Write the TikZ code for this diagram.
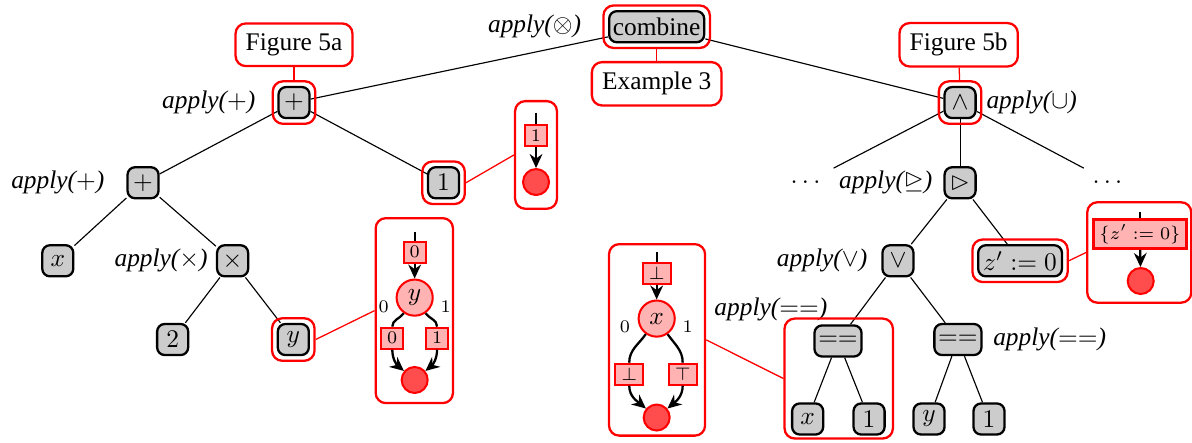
\documentclass[tikz,border=0pt]{standalone}
\usepackage{amsmath}
\usepackage{amssymb}
\usepackage{fontspec}
\setmainfont{Liberation Serif}
\usepackage{tikz}
\usetikzlibrary{arrows.meta, calc, fit, positioning}
\definecolor{treeGray}{HTML}{CCCCCC}
\definecolor{bddPink}{HTML}{FFB3B3}
\definecolor{bddRed}{HTML}{FF4D4D}

\tikzset{
  tnode/.style = {draw, line width = 0.9pt, fill = treeGray, rounded corners = 3pt,
                  minimum size = 0.43cm, inner sep = 1.5pt},
  hl/.style = {draw = red, line width = 0.9pt, rounded corners = 4pt, inner sep = 1.8pt},
  tag/.style = {draw = red, line width = 0.9pt, rounded corners = 4pt, fill = white,
                minimum height = 0.58cm, inner sep = 4pt},
  lbl/.style = {font = \itshape},
  link/.style = {line width = 0.45pt},
  redlink/.style = {draw = red, line width = 0.5pt},
  sq/.style = {draw = red, line width = 0.8pt, fill = bddPink, font = \scriptsize,
               minimum height = 0.29cm, inner xsep = 2.4pt, inner ysep = 1.2pt},
  var/.style = {circle, draw = red, line width = 0.8pt, fill = bddPink,
                minimum size = 0.5cm, inner sep = 0pt},
  term/.style = {circle, draw = red, line width = 0.8pt, fill = bddRed,
                 minimum size = 0.36cm, inner sep = 0pt},
  bit/.style = {font = \scriptsize},
  bddarrow/.style = {line width = 0.9pt, -{Stealth[length = 5.5pt, width = 5pt]}},
  bddline/.style = {line width = 0.9pt}
}

\begin{document}
\begin{tikzpicture}
  \useasboundingbox (0, 0) rectangle (16.5, 6.13);

  % ------------------------
  % left subtree
  % ------------------------
  \node[tnode, minimum width = 1.30cm] (combine) at (9.09, 5.76) {combine};
  \node[tnode] (plusA) at (4.07, 4.71) {$+$};
  \node[tnode] (plusB) at (1.98, 3.60) {$+$};
  \node[tnode] (leafX) at (0.80, 2.52) {$x$};
  \node[tnode] (times) at (3.22, 2.52) {$\times$};
  \node[tnode] (leafTwo) at (2.39, 1.43) {$2$};
  \node[tnode] (leafY) at (4.06, 1.43) {$y$};
  \node[tnode] (leafOne) at (6.14, 3.60) {$1$};

  \node[lbl] at (7.40, 5.76) {apply($\otimes$)};
  \node[lbl] at (2.89, 4.71) {apply($+$)};
  \node[lbl] at (0.80, 3.60) {apply($+$)};
  \node[lbl] at (2.23, 2.52) {apply($\times$)};

  % ------------------------
  % right subtree
  % ------------------------
  \node[tnode] (wedge) at (13.29, 4.71) {$\wedge$};
  \node (dotsL) at (11.18, 3.60) {$\cdots$};
  \node (dotsR) at (15.36, 3.60) {$\cdots$};
  \node[tnode] (tri) at (13.29, 3.60) {$\rhd$};
  \node[tnode] (vee) at (12.43, 2.52) {$\vee$};
  \node[tnode, minimum width = 1.16cm] (assign) at (14.12, 2.52) {$z' := 0$};
  \node[tnode] (eqL) at (11.60, 1.41) {$==$};
  \node[tnode] (leafXb) at (11.18, 0.33) {$x$};
  \node[tnode] (leafOneB) at (12.03, 0.33) {$1$};
  \node[tnode] (eqR) at (13.26, 1.43) {$==$};
  \node[tnode] (leafYb) at (12.86, 0.33) {$y$};
  \node[tnode] (leafOneC) at (13.69, 0.33) {$1$};

  \node[lbl] at (14.28, 4.71) {apply($\cup$)};
  \node[lbl] at (12.26, 3.60) {apply($\unrhd$)};
  \node[lbl] at (11.38, 2.52) {apply($\vee$)};
  \node[lbl] at (10.67, 1.85) {apply($==$)};
  \node[lbl] at (14.53, 1.43) {apply($==$)};

  % tree edges
  \draw[link] (combine) -- (plusA);
  \draw[link] (combine) -- (wedge);
  \draw[link] (plusA) -- (plusB);
  \draw[link] (plusA) -- (leafOne);
  \draw[link] (plusB) -- (leafX);
  \draw[link] (plusB) -- (times);
  \draw[link] (times) -- (leafTwo);
  \draw[link] (times) -- (leafY);
  \draw[link] (wedge) -- (dotsL.north east);
  \draw[link] (wedge) -- (tri);
  \draw[link] (wedge) -- (dotsR.north west);
  \draw[link] (tri) -- (vee);
  \draw[link] (tri) -- (assign);
  \draw[link] (vee) -- (eqL);
  \draw[link] (vee) -- (eqR);
  \draw[link] (eqL) -- (leafXb);
  \draw[link] (eqL) -- (leafOneB);
  \draw[link] (eqR) -- (leafYb);
  \draw[link] (eqR) -- (leafOneC);

  % ------------------------
  % highlights and tags
  % ------------------------
  \node[hl, fit = (combine)] (combineHL) {};
  \node[hl, fit = (plusA)] (plusAHL) {};
  \node[hl, fit = (leafOne)] (leafOneHL) {};
  \node[hl, fit = (leafY)] (leafYHL) {};
  \node[hl, fit = (wedge)] (wedgeHL) {};
  \node[hl, fit = (assign)] (assignHL) {};
  \node[hl, minimum width = 1.50cm, minimum height = 1.66cm] (eqGroup) at (11.61, 0.89) {};

  \node[tag] (figA) at (4.07, 5.51) {Figure 5a};
  \node[tag] (figB) at (13.27, 5.51) {Figure 5b};
  \node[tag] (exThree) at (9.09, 4.97) {Example 3};

  \draw[redlink] (figA) -- (plusAHL);
  \draw[redlink] (figB) -- (wedgeHL);
  \draw[redlink] (exThree) -- (combineHL);

  % ------------------------
  % decision diagrams
  % ------------------------

  % constant 1
  \node[hl, minimum width = 0.58cm, minimum height = 1.49cm] (bddOne) at (7.42, 3.985) {};
  \coordinate (oneStub) at (7.42, 4.57);
  \node[sq] (oneSq) at (7.42, 4.25) {$1$};
  \node[term] (oneTerm) at (7.42, 3.61) {};
  \draw[bddline] (oneStub) -- (oneSq);
  \draw[bddarrow] (oneSq) -- (oneTerm);

  % variable y
  \node[hl, minimum width = 1.07cm, minimum height = 2.56cm] (bddY) at (5.735, 1.83) {};
  \coordinate (yStub) at (5.74, 2.92);
  \node[sq] (ySq) at (5.74, 2.64) {$0$};
  \node[var] (yVar) at (5.74, 2.01) {$y$};
  \node[bit] at (5.31, 1.88) {$0$};
  \node[bit] at (6.17, 1.88) {$1$};
  \node[sq] (ySqLo) at (5.43, 1.45) {$0$};
  \node[sq] (ySqHi) at (6.05, 1.45) {$1$};
  \node[term] (yTerm) at (5.74, 0.87) {};
  \draw[bddline] (yStub) -- (ySq);
  \draw[bddarrow] (ySq) -- (yVar);
  \draw[bddline] (yVar) to[out = -125, in = 90] (ySqLo);
  \draw[bddline] (yVar) to[out = -55, in = 90] (ySqHi);
  \draw[bddarrow] (ySqLo) to[out = -90, in = 140] (yTerm);
  \draw[bddarrow] (ySqHi) to[out = -90, in = 40] (yTerm);

  % variable x
  \node[hl, minimum width = 1.33cm, minimum height = 2.65cm] (bddX) at (9.095, 1.425) {};
  \coordinate (xStub) at (9.09, 2.64);
  \node[sq] (xSq) at (9.09, 2.35) {$\bot$};
  \node[var] (xVar) at (9.09, 1.72) {$x$};
  \node[bit] at (8.65, 1.61) {$0$};
  \node[bit] at (9.52, 1.61) {$1$};
  \node[sq] (xSqLo) at (8.71, 0.95) {$\bot$};
  \node[sq] (xSqHi) at (9.45, 0.95) {$\top$};
  \node[term] (xTerm) at (9.09, 0.35) {};
  \draw[bddline] (xStub) -- (xSq);
  \draw[bddarrow] (xSq) -- (xVar);
  \draw[bddline] (xVar) to[out = -125, in = 90] (xSqLo);
  \draw[bddline] (xVar) to[out = -55, in = 90] (xSqHi);
  \draw[bddarrow] (xSqLo) to[out = -90, in = 140] (xTerm);
  \draw[bddarrow] (xSqHi) to[out = -90, in = 40] (xTerm);

  % assignment z'
  \node[hl, minimum width = 1.44cm, minimum height = 1.39cm] (bddZ) at (15.77, 2.635) {};
  \coordinate (zStub) at (15.78, 3.20);
  \node[sq, line width = 1.1pt, minimum height = 0.4cm] (zSq) at (15.78, 2.89) {$\{z' := 0\}$};
  \node[term] (zTerm) at (15.79, 2.24) {};
  \draw[bddline] (zStub) -- (zSq);
  \draw[bddarrow] (zSq) -- (zTerm);

  % links from tree nodes to diagrams
  \draw[redlink] (leafOneHL.east) -- (bddOne.west);
  \draw[redlink] (leafYHL.east) -- (bddY.west);
  \draw[redlink] (assignHL.east) -- (bddZ.west);
  \draw[redlink] (bddX.east) -- (eqGroup.west);
\end{tikzpicture}
\end{document}
